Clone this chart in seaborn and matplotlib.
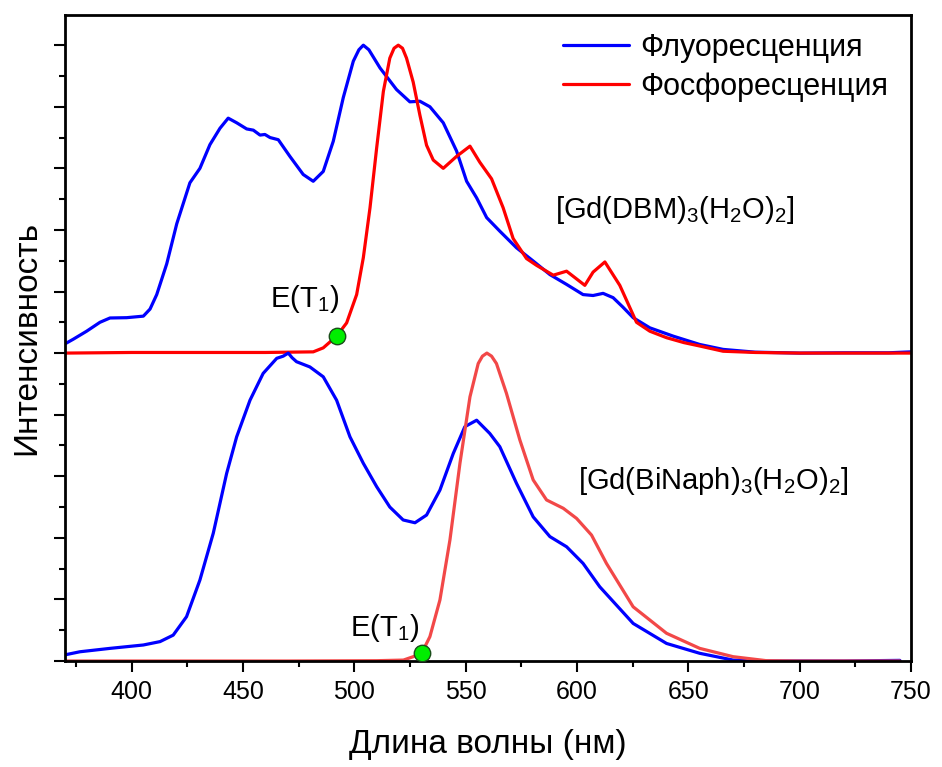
import numpy as np
import pandas as pd
import seaborn as sns
import matplotlib.pyplot as plt
from matplotlib.ticker import MultipleLocator, NullFormatter

sns.set_theme(style="ticks")
plt.rcParams["font.family"] = ["Liberation Sans", "DejaVu Sans"]
plt.rcParams["mathtext.fontset"] = "custom"
plt.rcParams["mathtext.rm"] = "Liberation Sans"
plt.rcParams["mathtext.it"] = "Liberation Sans:italic"
plt.rcParams["mathtext.default"] = "regular"
plt.rcParams["text.color"] = "black"
plt.rcParams["axes.labelcolor"] = "black"
plt.rcParams["xtick.color"] = "black"
plt.rcParams["ytick.color"] = "black"

# ---- [Gd(DBM)3(H2O)2] : normalised spectra (drawn with an offset of 1) ----
dbm_fl_wl = [370, 373.7, 379.7, 385.7, 390.2, 397.7, 405.2, 408.2, 411.2, 415.7, 420.2,
             426.1, 430.6, 435.1, 439.6, 443.3, 447.1, 451.6, 454.6, 457.6, 459.8, 462.1,
             465.8, 471.0, 477.0, 481.5, 486.0, 490.5, 495.0, 499.5, 502.0, 504.0, 506.5,
             511.5, 518.9, 524.9, 529.4, 533.9, 539.9, 545.9, 550.4, 554.9, 559.4, 565.3,
             572.8, 580.3, 587.8, 595.3, 602.7, 607.2, 611.7, 616.2, 620.5, 625.2, 632.7,
             643.2, 655.1, 665.6, 680.0, 700.0, 720.0, 740.0, 750.0]
dbm_fl_int = [0.03, 0.045, 0.071, 0.10, 0.114, 0.115, 0.12, 0.143, 0.19, 0.29, 0.42,
              0.553, 0.60, 0.677, 0.73, 0.763, 0.748, 0.728, 0.724, 0.708, 0.71, 0.70,
              0.693, 0.639, 0.58, 0.558, 0.59, 0.688, 0.83, 0.948, 0.985, 1.0, 0.985,
              0.926, 0.856, 0.816, 0.818, 0.80, 0.748, 0.656, 0.558, 0.504, 0.44, 0.396,
              0.342, 0.299, 0.255, 0.223, 0.19, 0.187, 0.194, 0.18, 0.15, 0.115, 0.082,
              0.055, 0.028, 0.012, 0.003, 0.0, 0.001, 0.001, 0.004]

dbm_ph_wl = [370, 400, 430, 460, 481.5, 486.0, 492.0, 496.5, 501.0, 504.0, 507.0, 510.0,
             513.0, 515.9, 517.8, 519.7, 521.6, 523.4, 526.4, 529.4, 532.4, 535.4, 539.9,
             545.9, 551.9, 556.3, 561.6, 566.8, 571.3, 577.3, 581.8, 589.3, 595.3, 603.5,
             607.2, 612.5, 619.2, 626.7, 632.7, 640.2, 648.0, 655.1, 665.6, 680.0, 700.0,
             720.0, 750.0]
dbm_ph_int = [0.0, 0.002, 0.002, 0.002, 0.004, 0.017, 0.055, 0.098, 0.19, 0.31, 0.472, 0.667,
              0.85, 0.958, 0.99, 1.0, 0.99, 0.958, 0.88, 0.773, 0.675, 0.627, 0.60,
              0.639, 0.672, 0.62, 0.566, 0.472, 0.372, 0.307, 0.285, 0.253, 0.266, 0.22,
              0.263, 0.296, 0.22, 0.10, 0.071, 0.05, 0.034, 0.023, 0.006, 0.002, 0.0,
              0.0, 0.0]

# ---- [Gd(BiNaph)3(H2O)2] : normalised spectra ----
bin_fl_wl = [370, 376.7, 390.2, 405.2, 412.7, 418.6, 424.6, 430.6, 436.6, 442.6, 447.1,
             453.1, 459.0, 465.1, 468.0, 470.3, 472.0, 474.0, 480.0, 486.0, 492.0, 498.0,
             504.0, 510.0, 515.9, 521.9, 527.2, 532.4, 538.4, 544.4, 549.6, 554.9, 560.8,
             565.3, 572.8, 580.3, 587.8, 595.3, 602.7, 610.2, 625.2, 640.2, 655.1, 670.1,
             685.0, 700.0, 720.0, 745.0]
bin_fl_int = [0.02, 0.03, 0.041, 0.052, 0.063, 0.084, 0.144, 0.263, 0.415, 0.609, 0.728,
              0.847, 0.934, 0.983, 0.99, 1.0, 0.985, 0.972, 0.955, 0.923, 0.847, 0.728,
              0.642, 0.566, 0.50, 0.458, 0.449, 0.474, 0.555, 0.674, 0.761, 0.782, 0.739,
              0.696, 0.577, 0.468, 0.404, 0.371, 0.317, 0.241, 0.122, 0.057, 0.025, 0.003,
              0.0, 0.0, 0.0, 0.002]

bin_ph_wl = [370, 420, 470, 510, 522.0, 526.4, 530.2, 533.9, 538.4, 542.9, 547.4, 551.9,
             555.6, 557.5, 559.5, 561.6, 563.8, 568.3, 574.3, 580.3, 586.3, 593.8, 599.8,
             606.5, 613.2, 625.2, 640.2, 655.1, 670.1, 685.1, 700.0, 720.0, 745.0]
bin_ph_int = [0.0, 0.0, 0.0, 0.001, 0.003, 0.014, 0.025, 0.079, 0.198, 0.393, 0.642, 0.858,
              0.966, 0.99, 1.0, 0.99, 0.966, 0.869, 0.718, 0.588, 0.523, 0.496, 0.463,
              0.409, 0.317, 0.176, 0.09, 0.041, 0.014, 0.001, 0.0, 0.0, 0.0]

# triplet-level onset points E(T1)
et1_wl = [492.0, 530.2]
et1_int = [1.055, 0.025]

top_offset = 1.0
x_ticks = [400, 450, 500, 550, 600, 650, 700, 750]

fig = plt.figure(figsize=(9.42, 7.67), dpi=100)
ax = fig.add_axes([65 / 942, 1 - 661 / 767, (911 - 65) / 942, (661 - 15) / 767])

blue = "#0000ff"
red = "#ff0000"
light_red = "#f24848"

sns.lineplot(x=dbm_fl_wl, y=np.array(dbm_fl_int) + top_offset, ax=ax, color=blue,
             lw=2.3, sort=False, estimator=None, label="Флуоресценция")
sns.lineplot(x=dbm_ph_wl, y=np.array(dbm_ph_int) + top_offset, ax=ax, color=red,
             lw=2.3, sort=False, estimator=None, label="Фосфоресценция")
sns.lineplot(x=bin_fl_wl, y=bin_fl_int, ax=ax, color=blue, lw=2.3,
             sort=False, estimator=None, legend=False)
sns.lineplot(x=bin_ph_wl, y=bin_ph_int, ax=ax, color=light_red, lw=2.3,
             sort=False, estimator=None, legend=False)

ax.scatter(et1_wl, et1_int, s=140, color="#00ee00", edgecolor="#1a4d1a",
           linewidth=1.0, zorder=5)

ax.set_xlim(370, 750)
ax.set_ylim(0, 2.098)
ax.set_xticks(x_ticks)
ax.xaxis.set_minor_locator(MultipleLocator(25))
ax.yaxis.set_major_locator(MultipleLocator(0.2))
ax.yaxis.set_minor_locator(MultipleLocator(0.1))
ax.yaxis.set_major_formatter(NullFormatter())
ax.tick_params(axis="both", which="major", direction="out", length=8, width=1.5,
               labelsize=18, colors="black", pad=6)
ax.tick_params(axis="both", which="minor", direction="out", length=4, width=1.5)
for s in ax.spines.values():
    s.set_visible(True)
    s.set_linewidth(2.0)
    s.set_color("black")

ax.set_xlabel("Длина волны (нм)", fontsize=24)
ax.set_ylabel("Интенсивность", fontsize=24)
ax.xaxis.set_label_coords(0.5, (661 - 745) / 646)
ax.xaxis.label.set_verticalalignment("center")
ax.yaxis.set_label_coords((27 - 65) / 846, 0.5)
ax.yaxis.label.set_verticalalignment("center")

ax.text(590, 1.465, r"[Gd(DBM)$_3$(H$_2$O)$_2$]", fontsize=21, va="center", ha="left")
ax.text(600.4, 0.585, r"[Gd(BiNaph)$_3$(H$_2$O)$_2$]", fontsize=21, va="center", ha="left")
ax.text(477.8, 1.175, r"E(T$_1$)", fontsize=21, va="center", ha="center")
ax.text(513.7, 0.108, r"E(T$_1$)", fontsize=21, va="center", ha="center")

leg = ax.legend(loc="upper right", frameon=False, fontsize=22, handlelength=2.16,
                handletextpad=0.36, labelspacing=0.29, borderaxespad=0,
                bbox_to_anchor=(0.987, 0.991))

fig.savefig("out.png", dpi=100)
